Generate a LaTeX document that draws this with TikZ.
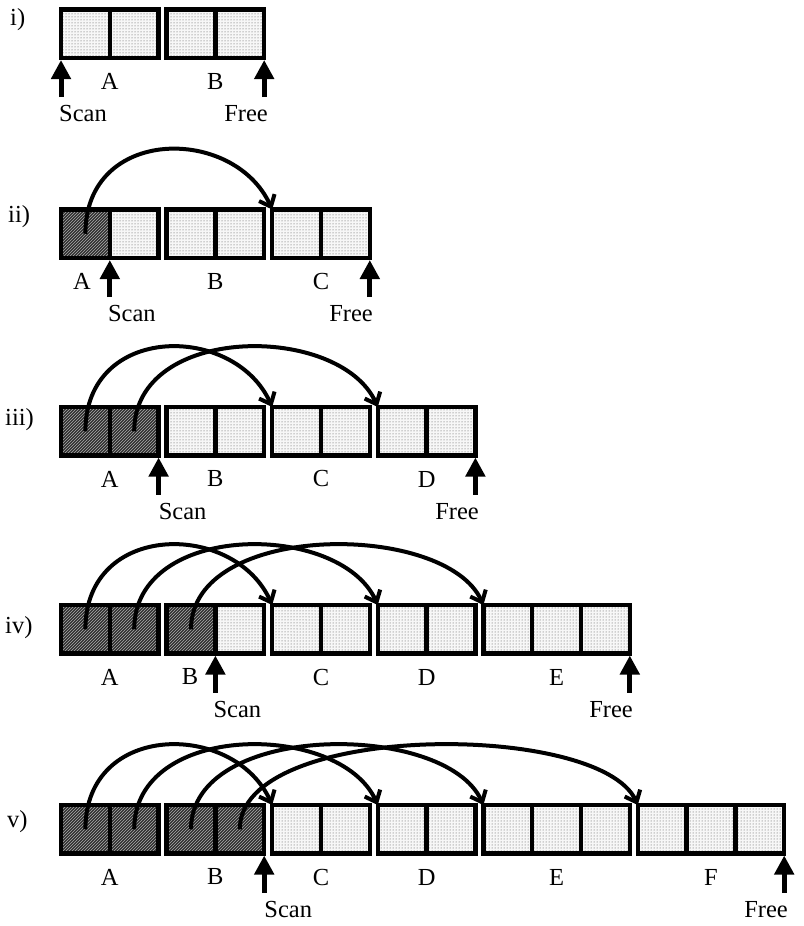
\documentclass[tikz,border=0pt]{standalone}
\usepackage{fontspec}
\setmainfont{Liberation Serif}
\usetikzlibrary{arrows.meta,patterns}
\tikzset{
  cellbase/.style={draw, line width=4.5pt, minimum width=48.8pt, minimum height=48.5pt,
    inner sep=0pt, outer sep=0pt, anchor=north west},
  freecell/.style={cellbase, pattern=dots, pattern color=black!70, preaction={fill=gray!6}},
  usedcell/.style={cellbase, pattern=north east lines, pattern color=gray!65, preaction={fill=black!82}},
  link/.style={line width=4pt, -{Straight Barb[length=10pt,width=17pt]}},
  ptr/.style={line width=5pt, -{Triangle[length=19pt,width=19pt]}},
  lbl/.style={inner sep=0pt, font=\fontsize{24.5}{28}\selectfont},
}
\newcommand\fc[3]{\node[freecell] (#1) at (#2,#3) {};}
\newcommand\uc[3]{\node[usedcell] (#1) at (#2,#3) {};}
\begin{document}
\begin{tikzpicture}[x=1pt,y=-1pt]
\useasboundingbox (0,0) rectangle (803,926);
% ---------- row i ----------
\node[lbl, anchor=west] (ri) at (10,20) {i)};
\fc{r1a1}{61}{9.5}\fc{r1a2}{109.8}{9.5}
\fc{r1b1}{166.6}{9.5}\fc{r1b2}{215.4}{9.5}
\node[lbl] (l1a) at (109.8,81.5) {A};
\node[lbl] (l1b) at (215.4,81.5) {B};
\path (r1a1.south west) ++(0,2) coordinate (s1t) ++(0,37) coordinate (s1b);
\path (r1b2.south east) ++(0,2) coordinate (f1t) ++(0,37) coordinate (f1b);
\draw[ptr] (s1b) -- (s1t);
\draw[ptr] (f1b) -- (f1t);
\node[lbl, anchor=west] (scan1) at (59,114) {Scan};
\node[lbl, anchor=east] (free1) at (268,114) {Free};
% ---------- row ii ----------
\node[lbl, anchor=west] (rii) at (8,217) {ii)};
\uc{r2a1}{61}{209.5}\fc{r2a2}{109.8}{209.5}
\fc{r2b1}{166.6}{209.5}\fc{r2b2}{215.4}{209.5}
\fc{r2c1}{272.2}{209.5}\fc{r2c2}{321}{209.5}
\draw[link] (r2a1.center) .. controls +(0,-108) and +(-38,-84) .. (r2c1.north west);
\node[lbl] (l2a) at (82,281.5) {A};
\node[lbl] (l2b) at (215.4,281.5) {B};
\node[lbl] (l2c) at (321,281.5) {C};
\path (r2a1.south east) ++(0,2) coordinate (s2t) ++(0,37) coordinate (s2b);
\path (r2c2.south east) ++(0,2) coordinate (f2t) ++(0,37) coordinate (f2b);
\draw[ptr] (s2b) -- (s2t);
\draw[ptr] (f2b) -- (f2t);
\node[lbl, anchor=west] (scan2) at (107.8,314) {Scan};
\node[lbl, anchor=east] (free2) at (373,314) {Free};
% ---------- row iii ----------
\node[lbl, anchor=west] (riii) at (5,420) {iii)};
\uc{r3a1}{61}{407}\uc{r3a2}{109.8}{407}
\fc{r3b1}{166.6}{407}\fc{r3b2}{215.4}{407}
\fc{r3c1}{272.2}{407}\fc{r3c2}{321}{407}
\fc{r3d1}{377.8}{407}\fc{r3d2}{426.6}{407}
\draw[link] (r3a1.center) .. controls +(0,-108) and +(-38,-84) .. (r3c1.north west);
\draw[link] (r3a2.center) .. controls +(0,-108) and +(-38,-84) .. (r3d1.north west);
\node[lbl] (l3a) at (109.8,479) {A};
\node[lbl] (l3b) at (215.4,479) {B};
\node[lbl] (l3c) at (321,479) {C};
\node[lbl] (l3d) at (426.6,479) {D};
\path (r3a2.south east) ++(0,2) coordinate (s3t) ++(0,37) coordinate (s3b);
\path (r3d2.south east) ++(0,2) coordinate (f3t) ++(0,37) coordinate (f3b);
\draw[ptr] (s3b) -- (s3t);
\draw[ptr] (f3b) -- (f3t);
\node[lbl, anchor=west] (scan3) at (158.6,511.5) {Scan};
\node[lbl, anchor=east] (free3) at (479,511.5) {Free};
% ---------- row iv ----------
\node[lbl, anchor=west] (riv) at (5,628) {iv)};
\uc{r4a1}{61}{605}\uc{r4a2}{109.8}{605}
\uc{r4b1}{166.6}{605}\fc{r4b2}{215.4}{605}
\fc{r4c1}{272.2}{605}\fc{r4c2}{321}{605}
\fc{r4d1}{377.8}{605}\fc{r4d2}{426.6}{605}
\fc{r4e1}{483.4}{605}\fc{r4e2}{532.2}{605}\fc{r4e3}{581}{605}
\draw[link] (r4a1.center) .. controls +(0,-108) and +(-38,-84) .. (r4c1.north west);
\draw[link] (r4a2.center) .. controls +(0,-108) and +(-38,-84) .. (r4d1.north west);
\draw[link] (r4b1.center) .. controls +(0,-108) and +(-38,-84) .. (r4e1.north west);
\node[lbl] (l4a) at (109.8,677) {A};
\node[lbl] (l4b) at (190,677) {B};
\node[lbl] (l4c) at (321,677) {C};
\node[lbl] (l4d) at (426.6,677) {D};
\node[lbl] (l4e) at (556.6,677) {E};
\path (r4b1.south east) ++(0,2) coordinate (s4t) ++(0,37) coordinate (s4b);
\path (r4e3.south east) ++(0,2) coordinate (f4t) ++(0,37) coordinate (f4b);
\draw[ptr] (s4b) -- (s4t);
\draw[ptr] (f4b) -- (f4t);
\node[lbl, anchor=west] (scan4) at (213.4,709.5) {Scan};
\node[lbl, anchor=east] (free4) at (633,709.5) {Free};
% ---------- row v ----------
\node[lbl, anchor=west] (rv) at (7,822) {v)};
\uc{r5a1}{61}{805}\uc{r5a2}{109.8}{805}
\uc{r5b1}{166.6}{805}\uc{r5b2}{215.4}{805}
\fc{r5c1}{272.2}{805}\fc{r5c2}{321}{805}
\fc{r5d1}{377.8}{805}\fc{r5d2}{426.6}{805}
\fc{r5e1}{483.4}{805}\fc{r5e2}{532.2}{805}\fc{r5e3}{581}{805}
\fc{r5f1}{637.8}{805}\fc{r5f2}{686.6}{805}\fc{r5f3}{735.4}{805}
\draw[link] (r5a1.center) .. controls +(0,-108) and +(-38,-84) .. (r5c1.north west);
\draw[link] (r5a2.center) .. controls +(0,-108) and +(-38,-84) .. (r5d1.north west);
\draw[link] (r5b1.center) .. controls +(0,-108) and +(-38,-84) .. (r5e1.north west);
\draw[link] (r5b2.center) .. controls +(0,-108) and +(-38,-84) .. (r5f1.north west);
\node[lbl] (l5a) at (109.8,877) {A};
\node[lbl] (l5b) at (215.4,877) {B};
\node[lbl] (l5c) at (321,877) {C};
\node[lbl] (l5d) at (426.6,877) {D};
\node[lbl] (l5e) at (556.6,877) {E};
\node[lbl] (l5f) at (711,877) {F};
\path (r5b2.south east) ++(0,2) coordinate (s5t) ++(0,37) coordinate (s5b);
\path (r5f3.south east) ++(0,2) coordinate (f5t) ++(0,37) coordinate (f5b);
\draw[ptr] (s5b) -- (s5t);
\draw[ptr] (f5b) -- (f5t);
\node[lbl, anchor=west] (scan5) at (264.2,909.5) {Scan};
\node[lbl, anchor=east] (free5) at (788,909.5) {Free};
\end{tikzpicture}
\end{document}
